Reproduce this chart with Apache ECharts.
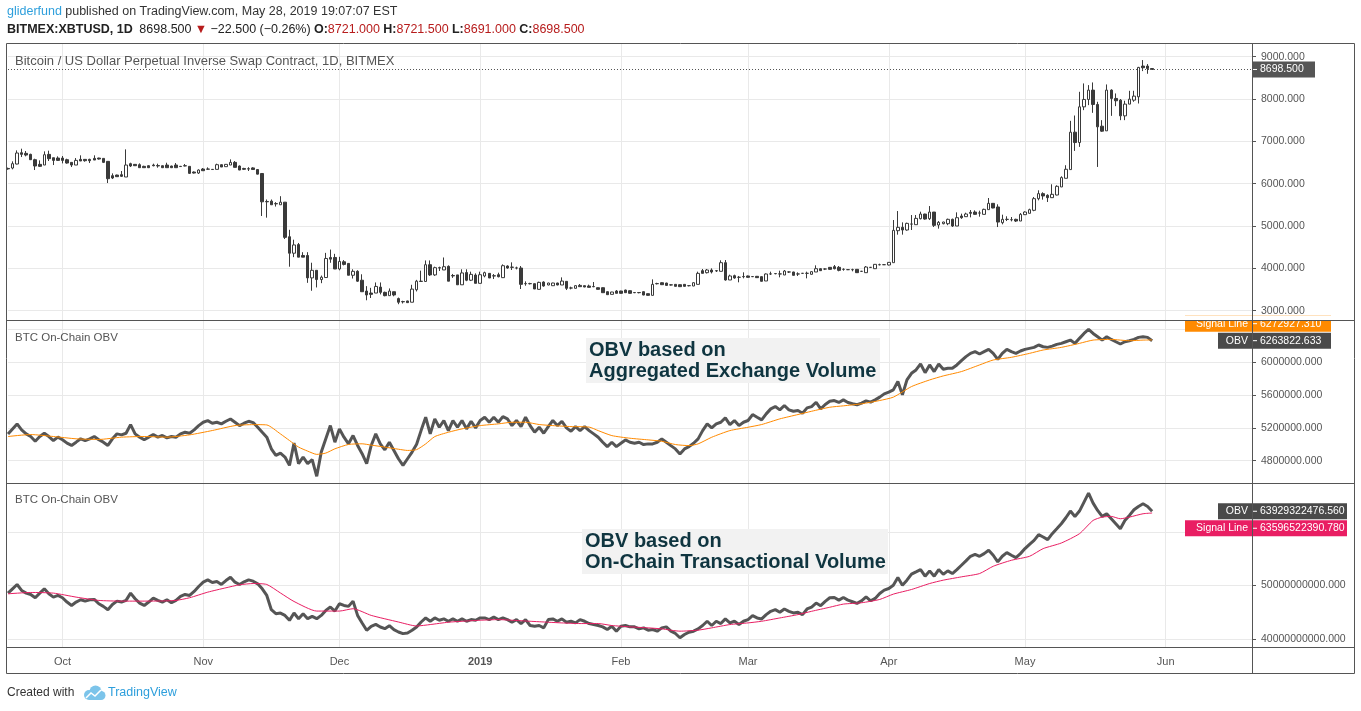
<!DOCTYPE html>
<html><head><meta charset="utf-8">
<script src="https://cdn.jsdelivr.net/npm/echarts@6/dist/echarts.min.js"></script>
<style>html,body{margin:0;padding:0;background:#fff;}#c{width:1361px;height:711px;}</style>
</head><body><div id="c"></div>
<script>
// ---------- DATA ----------
const startDate = '2018-09-19';
const dayCount = 275;
const monthLabels = ['2019','Feb','Mar','Apr','May','Jun','Jul','Aug','Sep','Oct','Nov','Dec'];
const priceTicks = [3000,4000,5000,6000,7000,8000,9000];
const obv1Ticks = [4800000,5200000,5600000,6000000,6400000];
const obv1Labels = [4800000,5200000,5600000,6000000];
const obv2Ticks = [40e9,50e9,60e9];
const obv2Labels = [40e9,50e9];

const opens = [6360,6370,6465,6732,6717,6693,6567,6457,6441,6693,
6614,6606,6606,6567,6504,6441,6575,6575,6575,6598,
6606,6598,6528,6189,6205,6213,6158,6473,6457,6449,
6410,6425,6441,6428,6425,6441,6418,6441,6410,6425,
6410,6276,6252,6347,6347,6339,6339,6449,6402,6441,
6504,6418,6360,6352,6373,6335,6241,5580,5588,5530,
5502,5564,4747,4358,4561,4304,4304,3775,3954,3736,
3783,4257,4257,3985,4156,4117,3837,3930,3720,3464,
3417,3417,3557,3433,3355,3448,3285,3215,3230,3200,
3495,3690,3690,4086,3845,4016,3962,4047,3830,3845,
3612,3900,3720,3842,3646,3820,3882,3825,3850,3780,
4055,4030,4010,4008,3640,3640,3638,3504,3677,3607,
3590,3654,3607,3693,3537,3528,3598,3591,3583,3570,
3543,3543,3449,3386,3465,3465,3488,3472,3430,3430,
3449,3402,3362,3640,3661,3653,3610,3622,3614,3622,
3592,3583,3622,3945,3898,3961,3945,3930,4134,3725,
3827,3790,3806,3820,3806,3812,3804,3702,3869,3877,
3869,3843,3915,3914,3868,3883,3883,3859,3914,3992,
3985,4024,4040,4024,3977,3970,3970,3977,3930,3898,
4024,3992,4087,4087,4079,4134,4890,4969,4906,5047,
5032,5173,5283,5173,5330,5024,5055,5055,5158,5000,
5237,5221,5323,5331,5308,5276,5387,5536,5450,5079,
5158,5150,5158,5118,5268,5300,5371,5646,5765,5726,
5670,5733,5923,6128,6333,7217,6972,7816,7990,8211,
7872,7359,7249,8211,8014,7974,7603,7880,7974,8053,
8779,8779,8721];
const closes = [6350,6473,6725,6693,6677,6567,6418,6410,6685,6591,
6551,6551,6551,6488,6441,6551,6536,6543,6543,6559,
6583,6504,6118,6134,6166,6174,6441,6418,6425,6378,
6378,6378,6425,6420,6378,6378,6378,6378,6405,6420,
6244,6252,6323,6307,6343,6335,6449,6394,6457,6504,
6386,6323,6340,6348,6335,6226,5572,5572,5502,5525,
5564,4732,4358,4553,4265,4265,3775,3954,3736,3791,
4234,4218,3985,4164,4094,3837,3930,3697,3448,3371,
3386,3573,3433,3355,3464,3371,3200,3210,3190,3510,
3697,3697,4086,3845,4016,4008,4039,3697,3822,3612,
3892,3720,3858,3646,3850,3898,3772,3820,3803,4063,
4008,4024,4008,3622,3638,3638,3512,3669,3583,3654,
3654,3607,3700,3528,3535,3591,3567,3559,3551,3567,
3504,3425,3378,3441,3410,3410,3425,3410,3425,3425,
3370,3362,3622,3638,3614,3598,3607,3575,3567,3575,
3590,3661,3882,3882,3961,3914,3940,4134,3725,3820,
3772,3788,3804,3788,3804,3780,3694,3867,3867,3875,
3867,3937,3914,3835,3867,3882,3882,3922,3992,3945,
3984,3976,3992,3953,3976,3969,3969,3898,3929,4032,
4023,4095,4086,4086,4142,4898,4969,4906,5063,5046,
5181,5283,5165,5330,5016,5087,5095,5158,5000,5197,
5197,5284,5300,5276,5307,5394,5536,5426,5094,5158,
5157,5149,5118,5276,5331,5386,5646,5765,5710,5670,
5749,5938,6144,6341,7217,6972,7816,7990,8211,7872,
7343,7241,8211,8014,7959,7603,7880,7998,8069,8747,
8740,8721,8698.5];
const lows = [6330,6339,6457,6630,6646,6560,6323,6394,6441,6536,
6441,6536,6480,6473,6394,6441,6536,6520,6488,6559,
6570,6488,6016,6110,6158,6158,6158,6394,6418,6378,
6378,6370,6410,6378,6370,6378,6370,6378,6395,6410,
6229,6240,6229,6307,6330,6330,6339,6394,6400,6441,
6386,6320,6323,6300,6330,6220,5237,5198,5502,5460,
5502,4693,4039,4265,4265,4265,3658,3471,3549,3650,
3783,4132,3985,3954,4070,3837,3760,3680,3448,3246,
3300,3417,3385,3340,3355,3340,3153,3170,3185,3200,
3455,3690,3690,3822,3822,3938,3962,3697,3775,3612,
3612,3697,3700,3646,3646,3788,3772,3748,3787,3780,
3992,3961,3976,3512,3590,3620,3512,3504,3567,3600,
3590,3600,3607,3488,3504,3528,3567,3555,3551,3555,
3500,3425,3378,3386,3410,3405,3420,3405,3415,3410,
3365,3355,3362,3620,3610,3590,3595,3570,3560,3570,
3575,3580,3622,3882,3880,3880,3914,3930,3710,3725,
3756,3670,3765,3780,3795,3775,3690,3702,3843,3860,
3788,3843,3890,3830,3820,3870,3764,3855,3914,3940,
3960,3970,3976,3930,3945,3960,3930,3890,3920,3898,
4015,3990,4070,4080,4070,4134,4796,4796,4890,4906,
5032,5157,5150,5142,4977,4938,5040,5020,4977,5000,
5170,5213,5205,5268,5221,5276,5387,5420,4976,5040,
5118,5110,5095,5118,5260,5300,5350,5607,5623,5568,
5670,5725,5923,6128,6333,6775,6870,7738,7856,7674,
6396,7225,7249,7603,7832,7501,7501,7880,7935,7895,
8660,8597,8691];
const highs = [6380,6528,6787,6827,6772,6709,6590,6551,6764,6780,
6614,6646,6654,6590,6504,6606,6670,6575,6590,6670,
6614,6598,6528,6244,6213,6300,6811,6496,6465,6480,
6425,6433,6473,6473,6430,6496,6425,6488,6420,6465,
6410,6290,6339,6370,6386,6345,6473,6457,6465,6575,
6535,6430,6375,6390,6390,6340,6241,5627,5627,5565,
5705,5564,4911,4677,4600,4382,4382,4133,3954,3830,
4366,4444,4343,4273,4195,4117,3978,3955,3860,3580,
3540,3667,3667,3450,3526,3448,3310,3235,3235,3612,
3728,3946,4187,4187,4040,4040,4257,4070,3868,3845,
3978,3978,3922,3882,3922,3922,3890,3866,3898,4094,
4071,4142,4040,4055,3693,3660,3640,3685,3693,3660,
3660,3660,3787,3693,3567,3600,3630,3595,3615,3677,
3550,3550,3455,3445,3488,3470,3495,3480,3440,3440,
3455,3405,3740,3660,3670,3660,3625,3630,3620,3630,
3605,3670,3922,3985,3985,4000,3961,4190,4197,3851,
3851,3820,3906,3830,3815,3820,3810,3880,3922,3890,
3945,3961,3930,3920,3906,3890,3922,3930,4071,4000,
4000,4030,4079,4055,4000,3980,3992,3980,3940,4055,
4030,4100,4110,4095,4150,5142,5354,5087,5079,5260,
5260,5339,5290,5472,5330,5118,5100,5175,5175,5323,
5292,5315,5378,5370,5363,5410,5662,5540,5513,5268,
5230,5213,5173,5307,5347,5410,5686,5844,5797,5750,
5986,5962,6175,6436,7485,7611,8171,8369,8329,8392,
7935,7501,8345,8230,8132,8000,7960,8195,8195,8760,
8921,8826,8721.5];

const obvExchange = [5127e3,5188e3,5249e3,5176e3,5127e3,5095e3,5038e3,5095e3,5135e3,5095e3,
5046e3,5087e3,5055e3,5014e3,4986e3,5026e3,5067e3,5046e3,5067e3,5095e3,
5055e3,5026e3,4986e3,5067e3,5127e3,5115e3,5135e3,5240e3,5127e3,5087e3,
5055e3,5087e3,5119e3,5087e3,5107e3,5079e3,5095e3,5087e3,5127e3,5147e3,
5135e3,5176e3,5228e3,5269e3,5289e3,5257e3,5269e3,5249e3,5281e3,5309e3,
5269e3,5228e3,5257e3,5281e3,5265e3,5208e3,5147e3,5087e3,4945e3,4865e3,
4893e3,4845e3,4743e3,5014e3,4764e3,4845e3,4764e3,4812e3,4610e3,4905e3,
5067e3,5228e3,5026e3,5188e3,5087e3,5006e3,5107e3,4986e3,4885e3,4764e3,
4986e3,5127e3,5006e3,4933e3,5026e3,4925e3,4824e3,4743e3,4824e3,4905e3,
5000e3,5170e3,5330e3,5127e3,5310e3,5208e3,5290e3,5167e3,5290e3,5208e3,
5290e3,5188e3,5281e3,5200e3,5290e3,5330e3,5269e3,5330e3,5269e3,5338e3,
5310e3,5228e3,5290e3,5216e3,5330e3,5228e3,5147e3,5208e3,5135e3,5216e3,
5290e3,5228e3,5281e3,5200e3,5159e3,5216e3,5167e3,5216e3,5167e3,5127e3,
5086e3,5025e3,4972e3,5025e3,4972e3,5013e3,5053e3,5025e3,5013e3,5025e3,
4997e3,5005e3,5005e3,5025e3,5066e3,5025e3,4984e3,4944e3,4883e3,4944e3,
4972e3,5013e3,5066e3,5167e3,5249e3,5200e3,5249e3,5269e3,5322e3,5241e3,
5290e3,5228e3,5269e3,5290e3,5363e3,5330e3,5298e3,5371e3,5432e3,5460e3,
5420e3,5473e3,5420e3,5403e3,5412e3,5379e3,5444e3,5460e3,5513e3,5432e3,
5485e3,5524e3,5534e3,5510e3,5542e3,5510e3,5494e3,5482e3,5502e3,5530e3,
5514e3,5542e3,5575e3,5615e3,5636e3,5664e3,5765e3,5603e3,5785e3,5866e3,
5907e3,5980e3,5874e3,5968e3,5887e3,5980e3,5915e3,5927e3,5927e3,5968e3,
6020e3,6069e3,6109e3,6130e3,6101e3,6130e3,6158e3,6109e3,6036e3,6109e3,
6158e3,6130e3,6109e3,6138e3,6158e3,6170e3,6182e3,6211e3,6190e3,6182e3,
6198e3,6219e3,6231e3,6251e3,6271e3,6231e3,6292e3,6352e3,6401e3,6352e3,
6312e3,6271e3,6312e3,6279e3,6251e3,6223e3,6251e3,6263e3,6279e3,6304e3,
6312e3,6304e3,6263822.633];

const signalExchange = [[0,5095e3],[5,5119e3],[10,5095e3],[15,5067e3],[20,5059e3],[25,5087e3],[30,5095e3],
[35,5087e3],[40,5115e3],[45,5168e3],[50,5228e3],[54,5240e3],[57,5236e3],[60,5127e3],[62,5046e3],[64,4966e3],
[66,4917e3],[68,4877e3],[70,4893e3],[72,4945e3],[75,4998e3],[78,5006e3],[80,4990e3],[83,4966e3],[86,4940e3],
[88,4925e3],[90,4935e3],[92,5005e3],[94,5094e3],[97,5147e3],[100,5188e3],[104,5228e3],[108,5249e3],[111,5269e3],
[114,5269e3],[117,5241e3],[120,5228e3],[124,5216e3],[128,5210e3],[130,5167e3],[133,5106e3],[137,5074e3],
[141,5054e3],[144,5037e3],[147,4997e3],[150,4984e3],[152,5005e3],[155,5086e3],[159,5167e3],[163,5208e3],
[166,5241e3],[170,5310e3],[174,5363e3],[177,5403e3],[181,5452e3],[184,5469e3],[188,5494e3],[192,5534e3],
[195,5575e3],[199,5704e3],[203,5785e3],[206,5834e3],[210,5887e3],[214,5968e3],[217,6028e3],[221,6061e3],
[225,6109e3],[228,6150e3],[232,6182e3],[236,6231e3],[239,6271e3],[243,6279e3],[247,6263e3],[250,6271e3],
[252,6272927.31]];

const obvOnChain = [48.57e9,49.38e9,50.19e9,49.07e9,48.57e9,48.32e9,47.70e9,48.57e9,49.38e9,48.44e9,
47.82e9,48.13e9,47.70e9,46.89e9,46.26e9,46.89e9,47.32e9,47.07e9,47.32e9,47.38e9,
46.57e9,46.08e9,45.45e9,46.45e9,47.07e9,46.89e9,47.20e9,48.57e9,47.51e9,46.70e9,
46.26e9,46.89e9,47.63e9,47.20e9,46.89e9,47.32e9,46.76e9,47.20e9,47.94e9,48.32e9,
48.13e9,48.88e9,49.81e9,50.62e9,51.06e9,50.56e9,50.75e9,50.19e9,50.93e9,51.56e9,
50.62e9,50.19e9,50.69e9,51.06e9,50.81e9,50.31e9,49.38e9,48.13e9,45.45e9,44.70e9,
44.83e9,44.39e9,43.46e9,44.83e9,43.77e9,44.70e9,43.77e9,44.21e9,43.77e9,44.39e9,
45.33e9,45.95e9,45.20e9,46.57e9,46.26e9,46.08e9,47.07e9,44.39e9,42.96e9,41.59e9,
42.34e9,42.71e9,42.21e9,41.90e9,42.46e9,41.71e9,41.28e9,40.97e9,41.09e9,41.59e9,
42.21e9,43.15e9,43.91e9,43.29e9,43.91e9,43.48e9,43.73e9,43.29e9,43.73e9,43.29e9,
43.73e9,43.29e9,43.60e9,43.48e9,43.91e9,43.91e9,43.60e9,44.10e9,43.60e9,43.91e9,
43.60e9,43.11e9,43.60e9,42.86e9,43.60e9,42.49e9,42.36e9,42.49e9,42.05e9,43.60e9,
43.73e9,43.29e9,43.73e9,43.11e9,43.29e9,42.98e9,43.60e9,43.29e9,42.86e9,42.67e9,
42.49e9,42.24e9,41.74e9,42.36e9,41.43e9,42.36e9,42.49e9,42.24e9,42.24e9,41.86e9,
42.05e9,41.62e9,41.74e9,41.43e9,42.05e9,42.24e9,41.43e9,41.00e9,40.19e9,40.81e9,
41.24e9,41.43e9,41.86e9,42.49e9,43.29e9,42.49e9,43.29e9,42.86e9,43.73e9,42.98e9,
43.29e9,42.67e9,43.29e9,43.60e9,44.35e9,43.91e9,43.73e9,44.54e9,45.16e9,45.47e9,
44.97e9,45.59e9,45.16e9,44.85e9,44.97e9,44.54e9,45.59e9,45.96e9,46.71e9,46.21e9,
47.02e9,47.70e9,47.76e9,47.26e9,47.76e9,47.26e9,46.95e9,46.64e9,47.13e9,47.88e9,
47.13e9,47.57e9,48.50e9,49.13e9,49.44e9,50.06e9,51.50e9,50.06e9,51.00e9,52.12e9,
52.55e9,52.99e9,51.74e9,52.74e9,51.74e9,52.99e9,52.12e9,52.74e9,52.24e9,52.99e9,
53.80e9,54.61e9,55.48e9,55.86e9,55.48e9,55.98e9,56.60e9,55.67e9,54.42e9,55.48e9,
56.17e9,55.67e9,55.23e9,55.98e9,56.92e9,57.73e9,58.47e9,59.53e9,59.10e9,58.60e9,
59.72e9,60.65e9,61.59e9,62.71e9,63.96e9,62.96e9,63.96e9,65.64e9,67.32e9,65.45e9,
64.08e9,62.96e9,63.46e9,62.52e9,61.59e9,60.65e9,62.21e9,63.15e9,64.20e9,64.83e9,
65.33e9,64.83e9,63929322476.56];

const signalOnChain = [[0,48.44e9],[5,48.69e9],[10,48.57e9],[15,47.82e9],[20,47.20e9],[25,47.07e9],[30,47.07e9],
[34,47.10e9],[37,47.20e9],[40,47.70e9],[44,48.75e9],[48,49.57e9],[51,50.13e9],[54,50.37e9],[57,50.19e9],
[60,48.60e9],[63,47.00e9],[68,45.20e9],[73,45.20e9],[76,45.64e9],[80,44.39e9],[86,43.15e9],[90,42.40e9],
[93,42.67e9],[97,43.11e9],[100,43.29e9],[104,43.48e9],[108,43.60e9],[111,43.48e9],[115,43.29e9],[119,43.11e9],
[122,42.98e9],[126,42.86e9],[130,42.86e9],[133,42.49e9],[137,42.24e9],[141,42.05e9],[144,41.86e9],[148,41.43e9],
[152,41.62e9],[155,42.05e9],[159,42.67e9],[163,42.98e9],[166,43.29e9],[170,43.91e9],[174,44.54e9],[177,45.16e9],
[181,45.92e9],[184,46.51e9],[188,46.76e9],[192,47.38e9],[195,48.38e9],[199,49.25e9],[203,50.37e9],[206,51.00e9],
[210,51.62e9],[214,52.24e9],[217,53.61e9],[221,54.73e9],[225,55.48e9],[228,56.92e9],[232,57.97e9],[236,59.72e9],
[239,62.21e9],[241,62.83e9],[243,62.96e9],[245,62.52e9],[247,62.83e9],[250,63.46e9],[252,63596522390.78]];

// ---------- CHART ----------
const FONT = "'Liberation Sans', Arial, sans-serif";
const categories = [];
(function(){ const t0 = Date.parse(startDate + 'T00:00:00Z');
  for (let i = 0; i < dayCount; i++) categories.push(new Date(t0 + i*86400000).toISOString().slice(0,10)); })();
const isMonthStart = (i, v) => v.slice(8) === '01';
const candles = opens.map((o, i) => [o, closes[i], lows[i], highs[i]]);
const last = opens.length - 1;

const GRID = '#e9e9e9', FRAME = '#555', TXT = '#555';
const ORANGE = '#ff8a00', PINK = '#e91e63', OBVC = '#555';
const AXF = 10.5;

function xAx(gi, showLabels) {
  return { type:'category', gridIndex:gi, data:categories, boundaryGap:false,
    axisLine:{show:false}, axisTick:{show:false},
    axisLabel:{show:showLabels, interval:isMonthStart, color:TXT, fontSize:11, fontFamily:FONT, margin:9,
      formatter: v => { const m = +v.slice(5,7); return m === 1 ? '{b|' + v.slice(0,4) + '}' : monthLabels[m-1]; },
      rich:{ b:{fontWeight:'bold', color:TXT, fontSize:11, fontFamily:FONT} } },
    splitLine:{show:true, interval:isMonthStart, lineStyle:{color:GRID, width:1}} };
}
function yAx(gi, min, max, ticks, labels) {
  return { type:'value', gridIndex:gi, position:'right', min, max,
    axisLine:{show:false},
    axisTick:{show:true, customValues:ticks, length:4, lineStyle:{color:FRAME}},
    axisLabel:{customValues:labels, color:TXT, fontSize:AXF, fontFamily:FONT, margin:9, formatter: v => v.toFixed(3)},
    splitLine:{show:true, lineStyle:{color:GRID, width:1}} };
}

const chart = echarts.init(document.getElementById('c'), null, {renderer:'canvas'});
chart.setOption({
  animation:false, backgroundColor:'#fff',
  grid:[ {left:8, right:109, top:43, height:277},
         {left:8, right:109, top:320, height:163},
         {left:8, right:109, top:483, height:164} ],
  xAxis:[ xAx(0,false), xAx(1,false), xAx(2,true) ],
  yAxis:[ yAx(0, 2780, 9324, priceTicks, priceTicks),
          yAx(1, 4528000, 6516000, obv1Ticks, obv1Labels),
          yAx(2, 38.46e9, 69.23e9, obv2Ticks, obv2Labels) ],
  series:[
    { type:'candlestick', xAxisIndex:0, yAxisIndex:0, data:candles, barWidth:3,
      itemStyle:{color:'#fff', color0:'#3a3a3a', borderColor:'#3a3a3a', borderColor0:'#3a3a3a', borderWidth:1},
      markLine:{silent:true, symbol:['none','none'], label:{show:false},
        lineStyle:{color:'#555', type:[1,2], width:1}, data:[{yAxis: closes[last]}]} },
    { type:'line', xAxisIndex:1, yAxisIndex:1, data:obvExchange, showSymbol:false, z:2,
      lineStyle:{color:OBVC, width:3} },
    { type:'line', xAxisIndex:1, yAxisIndex:1, data:signalExchange, showSymbol:false, smooth:0.2, z:3,
      lineStyle:{color:ORANGE, width:1} },
    { type:'line', xAxisIndex:2, yAxisIndex:2, data:obvOnChain, showSymbol:false, z:2,
      lineStyle:{color:OBVC, width:3} },
    { type:'line', xAxisIndex:2, yAxisIndex:2, data:signalOnChain, showSymbol:false, smooth:0.2, z:3,
      lineStyle:{color:PINK, width:1} }
  ]
});

// ---------- ANNOTATIONS (tags, frame, texts) ----------
const py = (ai, v) => chart.convertToPixel({yAxisIndex:ai}, v);
const txt = (x, y, s, font, fill, align) => ({type:'text', x, y, z:50,
  style:{text:s, font, fill, align:align||'left', verticalAlign:'middle'}});
const box = (x, y, w, h, fill, z) => ({type:'rect', z:z||40, shape:{x, y, width:w, height:h}, style:{fill}});
const hline = (x1, x2, y, c) => ({type:'line', z:60, shape:{x1, y1:y, x2, y2:y}, style:{stroke:c||FRAME, lineWidth:1}});
const TAGF = AXF + 'px ' + FONT;

const g = [];
function valueTag(y, label, valueText, color, nameW, valW) {
  g.push(box(1252 - nameW, y - 8, nameW, 16, color));
  g.push(txt(1248, y, label, TAGF, '#fff', 'right'));
  g.push(box(1253, y - 8, valW, 16, color));
  g.push({type:'line', z:45, shape:{x1:1253, y1:y, x2:1257, y2:y}, style:{stroke:'#fff', lineWidth:1}});
  g.push(txt(1260, y, valueText, TAGF, '#fff'));
}
const yPrice = py(0, closes[last]);
g.push(box(1253, yPrice - 8, 62, 16, '#555'));
g.push({type:'line', z:45, shape:{x1:1253, y1:yPrice, x2:1257, y2:yPrice}, style:{stroke:'#fff', lineWidth:1}});
g.push(txt(1260, yPrice, closes[last].toFixed(3), TAGF, '#fff'));

const yObv1 = py(1, obvExchange[last]);
valueTag(yObv1 - 17, 'Signal Line', signalExchange[signalExchange.length-1][1].toFixed(3), ORANGE, 67, 78);
valueTag(yObv1, 'OBV', obvExchange[last].toFixed(3), '#4a4a4a', 34, 78);
g.push(box(1180, 316, 160, 4, '#fff', 48));  // clip the pushed-up tag at the pane border

const yObv2 = py(2, obvOnChain[last]);
valueTag(yObv2, 'OBV', obvOnChain[last].toFixed(3), '#4a4a4a', 34, 94);
valueTag(yObv2 + 17, 'Signal Line', signalOnChain[signalOnChain.length-1][1].toFixed(3), PINK, 67, 94);

// frame
g.push({type:'rect', z:60, shape:{x:6.5, y:43.5, width:1348, height:630}, style:{fill:'none', stroke:FRAME, lineWidth:1}});
g.push(hline(7, 1355, 320.5)); g.push(hline(7, 1355, 483.5)); g.push(hline(7, 1355, 647.5));
g.push({type:'line', z:60, shape:{x1:1252.5, y1:43, x2:1252.5, y2:673}, style:{stroke:FRAME, lineWidth:1}});

// header
const chg = closes[last] - closes[last-1];
const pct = chg / closes[last-1] * 100;
const neg = s => s.replace('-', '\u2212');
g.push({type:'text', x:7, y:12, z:50, style:{text:'{a|gliderfund} {n|published on TradingView.com, May 28, 2019 19:07:07 EST}',
  verticalAlign:'middle', rich:{a:{fill:'#2e9fdc', font:'12.5px ' + FONT}, n:{fill:'#333', font:'12.5px ' + FONT}}}});
g.push({type:'text', x:7, y:30, z:50, style:{
  text:'{b|BITMEX:XBTUSD, 1D}  {n|' + closes[last].toFixed(3) + '} {r|\u25BC} {n|' + neg(chg.toFixed(3)) + ' (' + neg(pct.toFixed(2)) + '%)} ' +
    '{b|O:}{r|' + opens[last].toFixed(3) + '} {b|H:}{r|' + highs[last].toFixed(3) + '} {b|L:}{r|' + lows[last].toFixed(3) + '} {b|C:}{r|' + closes[last].toFixed(3) + '}',
  verticalAlign:'middle',
  rich:{b:{fill:'#222', font:'bold 12.5px ' + FONT}, n:{fill:'#222', font:'12.5px ' + FONT}, r:{fill:'#b71c1c', font:'12.5px ' + FONT}}}});

// pane titles
g.push(txt(15, 61, 'Bitcoin / US Dollar Perpetual Inverse Swap Contract, 1D, BITMEX', '13px ' + FONT, TXT));
g.push(txt(15, 338, 'BTC On-Chain OBV', '11.5px ' + FONT, TXT));
g.push(txt(15, 500, 'BTC On-Chain OBV', '11.5px ' + FONT, TXT));

// annotation boxes
g.push(box(586, 338, 294, 45, '#f2f2f2', 30));
g.push({type:'text', x:589, y:361, z:50, style:{text:'OBV based on\nAggregated Exchange Volume', font:'bold 20px ' + FONT,
  fill:'#0f3540', lineHeight:21, verticalAlign:'middle'}});
g.push(box(582, 529, 306, 45, '#f2f2f2', 30));
g.push({type:'text', x:585, y:552, z:50, style:{text:'OBV based on\nOn-Chain Transactional Volume', font:'bold 20px ' + FONT,
  fill:'#0f3540', lineHeight:21, verticalAlign:'middle'}});

// footer
g.push(txt(7, 693, 'Created with', '12px ' + FONT, '#333'));
g.push({type:'circle', z:50, shape:{cx:89, cy:695, r:5}, style:{fill:'#7cc4ea'}});
g.push({type:'circle', z:50, shape:{cx:95.5, cy:691.5, r:6}, style:{fill:'#7cc4ea'}});
g.push({type:'circle', z:50, shape:{cx:101, cy:695.5, r:4.5}, style:{fill:'#7cc4ea'}});
g.push({type:'rect', z:50, shape:{x:89, y:694, width:12, height:6}, style:{fill:'#7cc4ea'}});
g.push({type:'polyline', z:51, shape:{points:[[86,698],[91,693],[95,696],[101,690]]}, style:{stroke:'#fff', lineWidth:1.5, fill:'none'}});
g.push(txt(108, 693, 'TradingView', '12.5px ' + FONT, '#2e9fdc'));

chart.setOption({graphic: g});
</script>
</body></html>
